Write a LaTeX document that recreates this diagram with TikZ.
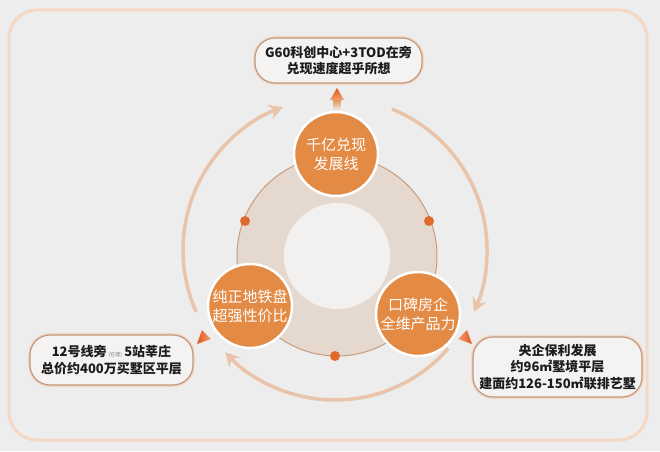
\documentclass[tikz,border=0pt]{standalone}
\usepackage{fontspec}
\setmainfont{Noto Sans CJK SC}
\usetikzlibrary{arrows.meta}
\definecolor{bg}{HTML}{EDEDED}
\definecolor{framec}{HTML}{F0CDB5}
\definecolor{orangec}{HTML}{E38A45}
\definecolor{ringc}{HTML}{E5D9CF}
\definecolor{ringline}{HTML}{C99C7C}
\definecolor{innerc}{HTML}{F2F1F0}
\definecolor{dotc}{HTML}{E06A2C}
\definecolor{arcc}{HTML}{E9C4A8}
\definecolor{boxc}{HTML}{BE9880}
\definecolor{glowc}{HTML}{F4D8C4}
\definecolor{boxfill}{HTML}{F4F3F2}
\definecolor{tric}{HTML}{E2541E}
\definecolor{tric2}{HTML}{F2A070}
\definecolor{txt}{HTML}{1C1C1C}
\tikzset{
  hub/.style={circle, fill=orangec, draw=white, line width=2.5pt, minimum size=84pt, inner sep=0pt,
    text=white, align=center, font=\fontsize{15}{19}\selectfont},
  infobox/.style={rectangle, rounded corners=20pt, draw=boxc, fill=boxfill, line width=1.2pt,
    preaction={draw=glowc, line width=4pt}, align=center, text=txt, inner sep=0pt,
    font=\bfseries\fontsize{13}{16.2}\selectfont},
  arcline/.style={draw=arcc, line width=3.5pt, -{Stealth[length=14pt,width=15pt,inset=5pt]}},
  ringdot/.style={circle, fill=dotc, inner sep=0pt, minimum size=10pt},
}
\begin{document}
\begin{tikzpicture}[x=1pt,y=1pt]
\fill[bg] (0,0) rectangle (660,451);
\useasboundingbox (0,0) rectangle (660,451);
% outer frame
\draw[glowc, line width=3pt, rounded corners=28pt] (9,11) rectangle (647,441);
% ring
\coordinate (C) at (337,195);
\fill[ringc] (C) circle[radius=100];
\draw[ringline, line width=1pt] (C) circle[radius=100];
\fill[innerc] (C) circle[radius=53];
\node[ringdot] (d1) at (245,230) {};
\node[ringdot] (d2) at (429,230) {};
\node[ringdot] (d3) at (335,95) {};
% big arcs
\coordinate (A) at (335,201);
\draw[arcline] ([shift={(204:152)}]A) arc[start angle=204, end angle=110, radius=152];
\draw[arcline] ([shift={(68:152)}]A) arc[start angle=68, end angle=-24, radius=152];
\draw[arcline] ([shift={(-41:150)}]A) arc[start angle=-41, end angle=-137, radius=150];
% hubs
\node[hub] (n1) at (336,297) {千亿兑现\\发展线};
\node[hub] (n2) at (250,145) {纯正地铁盘\\超强性价比};
\node[hub] (n3) at (418,137) {口碑房企\\全维产品力};
% info boxes
\node[infobox, minimum width=167pt, minimum height=45pt] (b1) at (338.5,390.5)
  {G60科创中心+3TOD在旁\\兑现速度超乎所想};
\node[infobox, minimum width=163pt, minimum height=50pt] (b2) at (111.5,91)
  {12号线旁\,{\color{gray}\mdseries\fontsize{5}{6}\selectfont(在建)}\,5站莘庄\\总价约400万买墅区平层};
\node[infobox, minimum width=169pt, minimum height=60pt] (b3) at (557.5,84)
  {央企保利发展\\约96㎡墅境平层\\建面约126-150㎡联排艺墅};
% orange pointers
\shade[top color=orangec, bottom color=bg] (333.5,341) rectangle (340.5,352);
\shade[top color=tric, bottom color=tric2] (330,351) -- (337,363) -- (344,351) -- cycle;
\shade[left color=tric, right color=tric2] (197,107) -- (211,112) -- (202,121) -- cycle;
\shade[right color=tric, left color=tric2] (472,107) -- (458,112) -- (467,121) -- cycle;
\end{tikzpicture}
\end{document}
